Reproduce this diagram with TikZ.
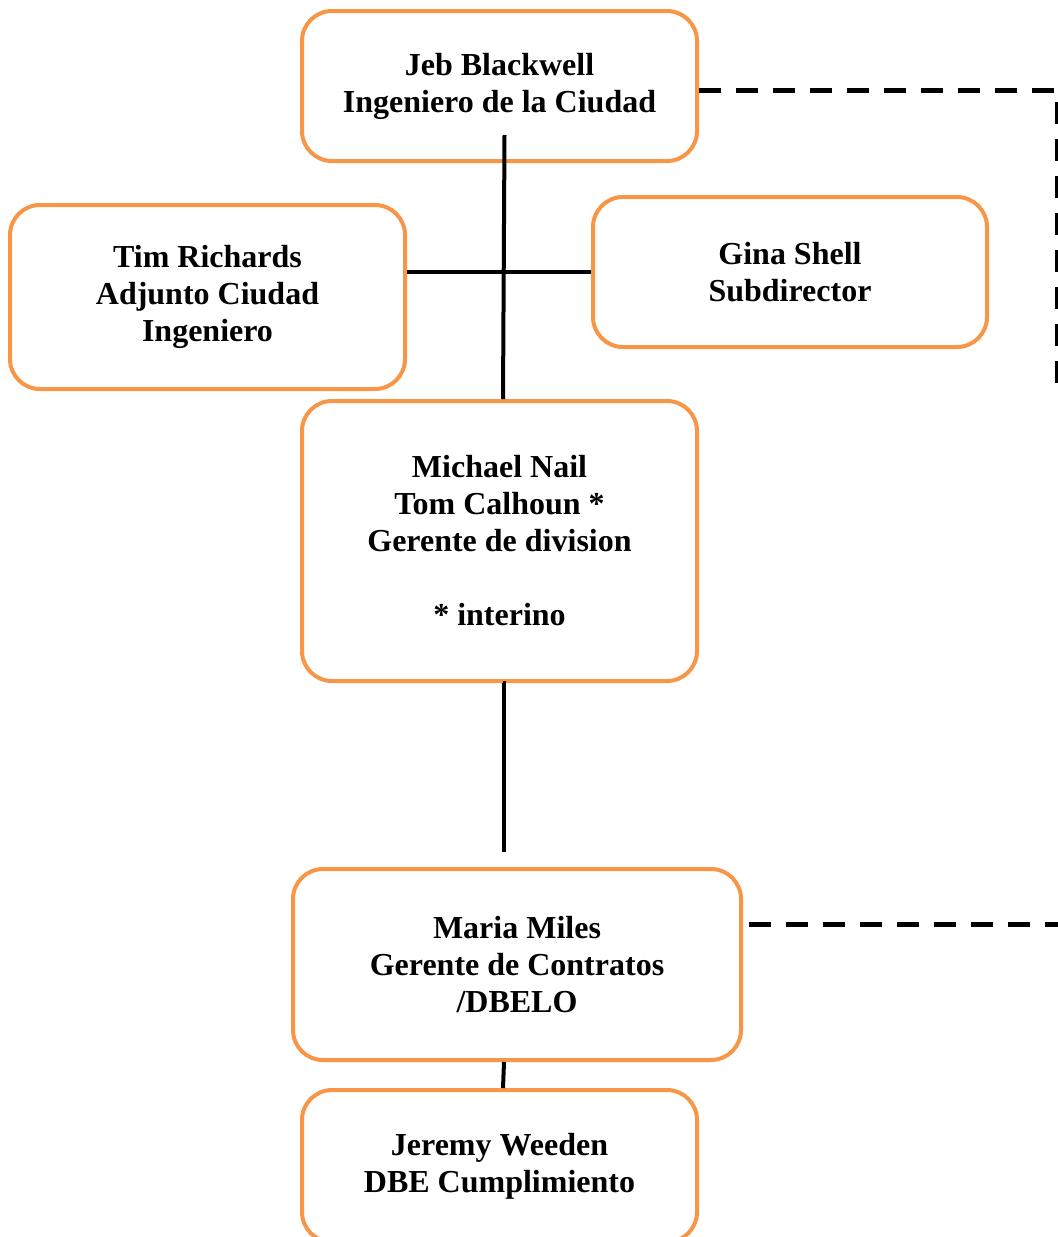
\documentclass[tikz,border=0pt]{standalone}
\usepackage{fontspec}
\setmainfont{Liberation Serif}
\definecolor{naranja}{HTML}{F79646}
\tikzset{
  caja/.style={draw=naranja,line width=2pt,rounded corners=15pt,inner sep=0pt,
    align=center,font=\fontsize{16}{18.5}\selectfont\bfseries},
  linea/.style={line width=2pt},
  trazos/.style={line width=2.5pt,dash pattern=on 11pt off 7.5pt}
}
\begin{document}
\begin{tikzpicture}[x=.5pt,y=-.5pt]
\useasboundingbox (0,0) rectangle (1058,1237);
\node[caja,minimum width=197.5pt,minimum height=75pt] (jeb) at (499.5,86) {Jeb Blackwell\\Ingeniero de la Ciudad};
\node[caja,minimum width=197.5pt,minimum height=92pt] (tim) at (207.5,297) {Tim Richards\\Adjunto Ciudad\\Ingeniero};
\node[caja,minimum width=197pt,minimum height=75pt] (gina) at (790,272) {Gina Shell\\Subdirector};
\node[caja,minimum width=197.5pt,minimum height=140pt] (nail) at (499.5,541) {Michael Nail\\Tom Calhoun *\\Gerente de division\\ \\* interino};
\node[caja,minimum width=224pt,minimum height=95.5pt] (miles) at (517,964.5) {Maria Miles\\Gerente de Contratos\\/DBELO};
\node[caja,minimum width=197.5pt,minimum height=76pt] (weeden) at (499.5,1166) {Jeremy Weeden\\DBE Cumplimiento};
\coordinate (corte) at (504,852);
\coordinate (esq) at (1057,90);
\coordinate (fin) at (1057,398);
\coordinate (borde) at (1058,924);
% lineas de mando
\draw[linea] ([xshift=2.5pt]jeb.south) ++(0,-28) -- ([xshift=1.75pt]nail.north);
\draw[linea] (tim.east |- gina.west) -- (gina.west);
\draw[linea] ([xshift=1.75pt]nail.south) -- (nail.south -| corte) -- (corte);
\draw[linea] ([xshift=2.25pt]miles.south -| weeden.north) -- ([xshift=1.75pt]weeden.north);
% lineas punteadas
\draw[trazos] (jeb.east |- esq) -- (esq) -- (fin);
\draw[trazos] ([xshift=3pt]miles.east |- borde) -- (borde);
\end{tikzpicture}
\end{document}
